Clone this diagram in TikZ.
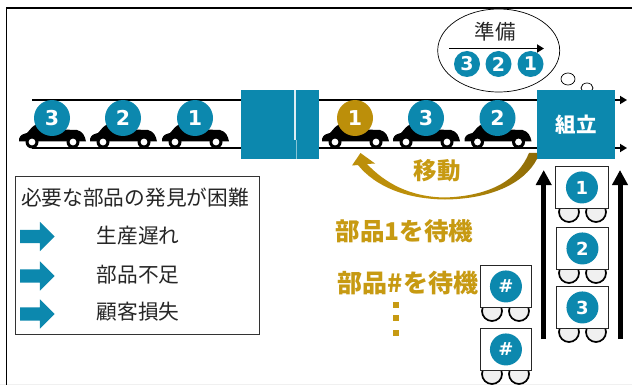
\documentclass[tikz,border=0pt]{standalone}
\usepackage{fontspec}
\setmainfont{DejaVu Sans}
\newfontfamily\jp{Noto Sans CJK JP}
\usetikzlibrary{arrows.meta,shapes.arrows,shapes.geometric}
\definecolor{tealblue}{HTML}{0C88AE}
\definecolor{goldc}{HTML}{BC8F0A}
\definecolor{goldt}{HTML}{C79A12}
\definecolor{wheelg}{HTML}{F0F0F0}
\tikzset{
  numdot/.style={circle,fill=#1,text=white,minimum size=36pt,inner sep=0pt,font=\fontsize{20.5}{20.5}\bfseries},
  numdot/.default=tealblue,
  smalldot/.style={circle,fill=tealblue,text=white,minimum size=26pt,inner sep=0pt,font=\fontsize{19}{19}\bfseries},
  cartdot/.style={circle,fill=tealblue,text=white,minimum size=32pt,inner sep=0pt,font=\fontsize{18}{18}\bfseries},
  rail/.style={line width=1.9pt,black},
  railend/.style={rail,-{Triangle[width=8pt,length=7pt]}},
  feed/.style={line width=5pt,black,-{Triangle[width=15pt,length=15pt]}},
  station/.style={fill=tealblue,inner sep=0pt,minimum width=78pt,minimum height=69pt,anchor=north west},
  cartbox/.style={draw=black!85,fill=white,line width=0.9pt,inner sep=0pt,anchor=north west},
  cartwheel/.style={circle,draw=black,fill=wheelg,line width=1.7pt,minimum size=20pt,inner sep=0pt},
  jtext/.style={font=\jp\fontsize{20.7}{20.7}\selectfont,text=black!85,inner sep=0pt},
  goldlabel/.style={font=\jp\fontsize{24.5}{24.5}\selectfont\bfseries,text=goldt,inner sep=0pt},
  bluearrow/.style={single arrow,fill=tealblue,inner sep=0pt,minimum height=34.5pt,
    single arrow head extend=8pt,single arrow head indent=0pt},
  golddot/.style={fill=goldt,inner sep=0pt,minimum size=6pt},
}
\newcommand{\carbody}[1]{%
  \begin{scope}[shift={(#1,0)}]
    \fill[black] (-33,141.5) -- (-33,139) .. controls (-32,135) and (-29,134) .. (-25,133)
      .. controls (-22,130) and (-20,126) .. (-15,124) -- (0,122) -- (10,129.5) -- (25,130)
      .. controls (31,131.5) and (33,136) .. (34,141.5) -- cycle;
    \fill[black] (-20,142) circle (6.5);
    \fill[white] (-20,142) circle (3.4);
    \fill[black] (21,142) circle (6.5);
    \fill[white] (21,142) circle (3.4);
  \end{scope}}
\begin{document}
\begin{tikzpicture}[x=1pt,y=-1pt]
\useasboundingbox (0,0) rectangle (632,385);
\fill[white] (0,0) rectangle (632,385);
\fill[wheelg] (0,383.5) rectangle (632,385);
\draw[line width=1.6pt,black] (6.5,385) -- (6.5,8) -- (632,8);

% thought bubble, small circles
\node[draw=black,line width=0.7pt,ellipse,minimum width=12pt,minimum height=10pt,inner sep=0pt] (b2) at (587,88) {};
\node[draw=black,line width=0.7pt,ellipse,minimum width=14pt,minimum height=12pt,inner sep=0pt] (b1) at (568,79) {};

% rails
\coordinate (railTL) at (32,100);
\coordinate (railBL) at (32,148);
\coordinate (endT) at (627,100);
\coordinate (endB) at (627,148);
\node[station] (gate) at (241,90) {};
\node[station] (asm) at (537,90) {};
\draw[rail] (railTL) -- (railTL -| gate.west);
\draw[rail] (railBL) -- (railBL -| gate.west);
\draw[rail] (railTL -| gate.east) -- (railTL -| asm.west);
\draw[rail] (railBL -| gate.east) -- (railBL -| asm.west);
\draw[railend] (endT -| asm.east) -- (endT);
\draw[railend] (endB -| asm.east) -- (endB);
\fill[white!85!tealblue] (294,90) rectangle (296,140);
\fill[white!50!tealblue] (295.5,140) rectangle (296.5,159);
\node[font=\jp\fontsize{20.5}{20.5}\selectfont\bfseries,text=white,inner sep=0pt] (asmlabel) at (asm.center) {組立};

% cars
\foreach \cx in {52,123,195,355,426,497.5} {\carbody{\cx}}
\node[numdot] (c3) at (52,118) {3};
\node[numdot] (c2) at (123,118) {2};
\node[numdot] (c1) at (195,118) {1};
\node[numdot=goldc] (d1) at (355,118) {1};
\node[numdot] (d3) at (426,118) {3};
\node[numdot] (d2) at (497.5,118) {2};

% thought
\node[draw=black,line width=0.7pt,ellipse,minimum width=122pt,minimum height=83pt,inner sep=0pt] (thought) at (498.7,50.5) {};
\node[jtext,font=\jp\fontsize{20.5}{20.5}\selectfont] (prep) at (495,32) {準備};
\coordinate (pL) at (449,48.5);
\coordinate (pR) at (544,48.5);
\draw[line width=1.9pt,-{Triangle[width=8pt,length=7pt]}] (pL) -- (pR);
\node[smalldot] (s3) at (467,64) {3};
\node[smalldot] (s2) at (498.5,64) {2};
\node[smalldot] (s1) at (530.5,64) {1};

% move arrow
\path[left color=goldc,right color=goldc!75!black,middle color=goldc] 
  (537,159) .. controls (524,184) and (490,199) .. (445,199.5)
  .. controls (405,199) and (375,186) .. (358,165)
  -- (352,165.5) -- (360.5,153) -- (375,163.5) -- (367,164)
  .. controls (385,183) and (410,197) .. (445,197.5)
  .. controls (490,196) and (518,180) .. (529,153) -- (537,153) -- cycle;
\node[goldlabel,font=\jp\fontsize{23.5}{23.5}\selectfont\bfseries] (move) at (437,171) {移動};

% waiting labels
\node[goldlabel] (w1) at (404.5,231) {部品1を待機};
\node[goldlabel,font=\jp\fontsize{25}{25}\selectfont\bfseries] (w2) at (408,283) {部品\#を待機};
\node[golddot] (g1) at (396,305) {};
\node[golddot] (g2) at (396,318) {};
\node[golddot] (g3) at (396,333) {};

% legend
\node[draw=black!80,line width=0.8pt,fill=white,minimum width=244pt,minimum height=158pt,inner sep=0pt,anchor=north west] (legend) at (14.5,176) {};
\node[jtext] (ltitle) at (135,198) {必要な部品の発見が困難};
\node[bluearrow] (a1) at (34,236.5) {\rule{0pt}{13pt}};
\node[bluearrow] (a2) at (34,276) {\rule{0pt}{13pt}};
\node[bluearrow] (a3) at (34,314) {\rule{0pt}{13pt}};
\node[jtext] (l1) at (138,236) {生産遅れ};
\node[jtext] (l2) at (138,275) {部品不足};
\node[jtext] (l3) at (138,312) {顧客損失};

% feed arrows
\coordinate (f1b) at (543.7,339);
\coordinate (f1t) at (543.7,170);
\coordinate (f2b) at (620,339);
\coordinate (f2t) at (620,170);
\draw[feed] (f1b) -- (f1t);
\draw[feed] (f2b) -- (f2t);

% carts
\foreach \nm/\xa/\xb/\xc/\yt/\bw/\lab in {k1/569/596/555/166/53/1,k2/569/596/556/227/52/2,k3/569/596/556/286/52/3,h1/492/519/480/265/51/\#,h2/492/519/480/328/51/\#} {
  \pgfmathsetmacro{\wy}{\yt+46}
  \node[cartwheel] (\nm wa) at (\xa,\wy) {};
  \node[cartwheel] (\nm wb) at (\xb,\wy) {};
  \node[cartbox,minimum width=\bw pt,minimum height=42pt] (\nm) at (\xc,\yt) {};
  \node[cartdot] (\nm dot) at (\nm.center) {\lab};
}
\end{tikzpicture}
\end{document}
